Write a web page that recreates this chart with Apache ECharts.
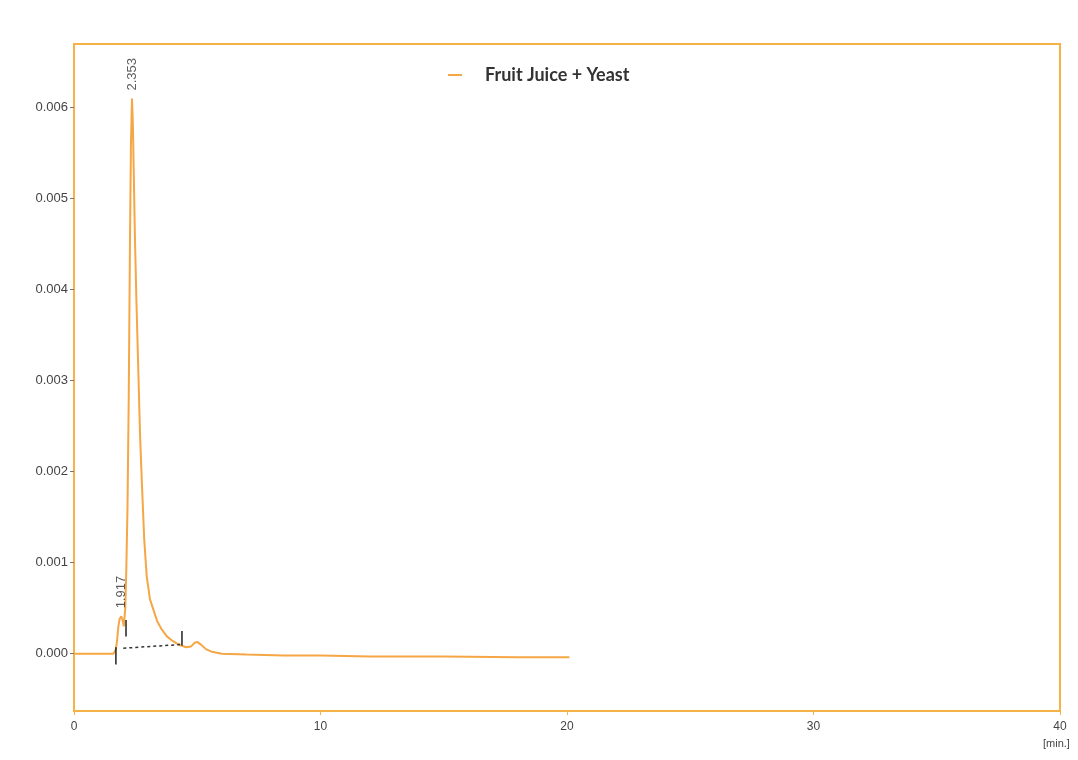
<!DOCTYPE html>
<html><head><meta charset="utf-8">
<script src="https://cdn.jsdelivr.net/npm/echarts@6/dist/echarts.min.js"></script>
<style>html,body{margin:0;padding:0;background:#fff}#c{width:1078px;height:760px}</style>
</head><body><div id="c"></div>
<script>
const seriesName = 'Fruit Juice + Yeast';
const times = [0, 1.0, 1.6, 1.7, 1.75, 1.8, 1.85, 1.917, 1.97, 2.02, 2.08, 2.12, 2.17, 2.22, 2.27, 2.31, 2.353, 2.39, 2.43, 2.47, 2.53, 2.6, 2.68, 2.75, 2.85, 2.95, 3.08, 3.2, 3.37, 3.55, 3.77, 4.0, 4.18, 4.35, 4.55, 4.75, 4.9, 5.0, 5.15, 5.35, 5.6, 6.0, 7.0, 8.5, 10, 12, 15, 18, 20.1];
const signal = [0, 0, 0, 0.00005, 0.00015, 0.0003, 0.00038, 0.00041, 0.00037, 0.0003, 0.0005, 0.0009, 0.0016, 0.0028, 0.0045, 0.0056, 0.0061, 0.0058, 0.0052, 0.0046, 0.0039, 0.0032, 0.0024, 0.0019, 0.00125, 0.00085, 0.0006, 0.0005, 0.00036, 0.00027, 0.00019, 0.00014, 0.00011, 0.00009, 0.00007, 0.00008, 0.00012, 0.00013, 0.0001, 0.00005, 0.00002, 0, -0.00001, -0.00002, -0.00002, -0.00003, -0.00003, -0.00004, -0.00004];
const peakTimes = [1.917, 2.353];
const peakHeights = [0.00041, 0.0061];
const markerTimes = [1.70, 2.11, 4.38];
const markerLow = [-0.00012, 0.00019, 0.00009];
const markerHigh = [0.00007, 0.00037, 0.00025];
const baselineTimes = [2.0, 4.3];
const baselineValues = [0.00006, 0.0001];
const yTicks = [0, 0.001, 0.002, 0.003, 0.004, 0.005, 0.006];
const xTicks = [0, 10, 20, 30, 40];

const orange = '#F5A645';
const frame = '#F4B247';
const txt = '#444';

const chart = echarts.init(document.getElementById('c'), null, {renderer: 'canvas'});
const markerSeries = markerTimes.map((t, i) => ({
  type: 'line', silent: true, symbol: 'none', z: 5,
  lineStyle: {color: '#222', width: 1.5},
  data: [[t, markerLow[i]], [t, markerHigh[i]]]
}));
chart.setOption({
  animation: false,
  backgroundColor: '#fff',
  grid: {left: 74, right: 18, top: 44, bottom: 49, show: true, borderColor: frame, borderWidth: 2, backgroundColor: '#fff'},
  legend: {
    data: [seriesName], top: 61, left: 443,
    icon: 'rect', itemWidth: 14, itemHeight: 2, itemGap: 8,
    textStyle: {fontFamily: 'Lato', fontWeight: 'bold', fontSize: 18, color: '#333', padding: [0, 0, 0, 18]}
  },
  xAxis: {
    type: 'value', min: 0, max: 40, interval: 10,
    axisLine: {show: false, onZero: false},
    axisTick: {show: true, length: 4, lineStyle: {color: frame}},
    splitLine: {show: false},
    axisLabel: {color: txt, fontFamily: 'Liberation Sans', fontSize: 12, margin: 10,
      formatter: v => xTicks.indexOf(v) >= 0 ? String(v) : ''}
  },
  yAxis: {
    type: 'value', min: -0.00063, max: 0.0067,
    axisLine: {show: false},
    splitLine: {show: false},
    axisTick: {show: true, length: 4, customValues: yTicks, lineStyle: {color: '#777'}},
    axisLabel: {color: txt, fontFamily: 'Liberation Sans', fontSize: 13, margin: 6,
      customValues: yTicks, formatter: v => v.toFixed(3)}
  },
  graphic: [{type: 'text', left: 1043, top: 738, style: {text: '[min.]', fill: txt, font: '11px "Liberation Sans"'}}],
  series: [
    {
      name: seriesName, type: 'line', symbol: 'none', z: 3,
      lineStyle: {color: orange, width: 2}, itemStyle: {color: orange},
      data: times.map((t, i) => [t, signal[i]])
    },
    {
      type: 'line', silent: true, symbol: 'none', z: 4,
      lineStyle: {color: '#333', width: 1.5, type: [3, 3]},
      data: baselineTimes.map((t, i) => [t, baselineValues[i]])
    },
    ...markerSeries,
    {
      type: 'scatter', silent: true, symbolSize: 0, z: 6,
      data: peakTimes.map((t, i) => [t, peakHeights[i]]),
      label: {show: true, position: 'top', distance: 8, rotate: 90, align: 'left', verticalAlign: 'middle',
        color: '#333', fontFamily: 'Liberation Sans', fontSize: 13,
        formatter: p => p.value[0].toFixed(3)}
    }
  ]
});
</script></body></html>
